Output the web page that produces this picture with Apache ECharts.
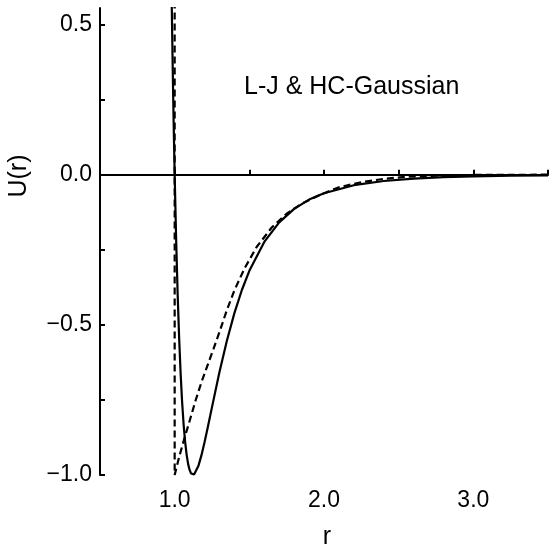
<!DOCTYPE html>
<html>
<head>
<meta charset="utf-8">
<script src="https://cdn.jsdelivr.net/npm/echarts@6/dist/echarts.min.js"></script>
<style>html,body{margin:0;padding:0;background:#fff}#c{width:560px;height:550px}</style>
</head>
<body>
<div id="c"></div>
<script>
// Lennard-Jones curve (solid)
var ljR = [0.97, 0.975, 0.98, 0.985, 0.99, 0.995, 1.0, 1.01, 1.02, 1.03, 1.04, 1.05, 1.06, 1.07, 1.08, 1.09, 1.1, 1.11, 1.12, 1.13, 1.14, 1.16, 1.18, 1.2, 1.22, 1.25, 1.3, 1.35, 1.4, 1.45, 1.5, 1.6, 1.7, 1.8, 1.9, 2.0, 2.2, 2.4, 2.6, 2.8, 3.0, 3.25, 3.5];
var ljU = [0.963, 0.764, 0.582, 0.416, 0.264, 0.126, 0, -0.218, -0.398, -0.544, -0.663, -0.758, -0.832, -0.889, -0.932, -0.963, -0.983, -0.995, -1.0, -0.998, -0.992, -0.968, -0.933, -0.891, -0.845, -0.774, -0.657, -0.552, -0.461, -0.384, -0.320, -0.224, -0.159, -0.114, -0.083, -0.062, -0.035, -0.021, -0.013, -0.008, -0.0055, -0.0034, -0.0022];
// Hard-core + Gaussian curve (dashed)
var hcR = [1.0, 1.0, 1.03, 1.06, 1.1, 1.14, 1.18, 1.22, 1.26, 1.3, 1.35, 1.4, 1.47, 1.55, 1.65, 1.75, 1.85, 1.97, 2.1, 2.25, 2.4, 2.55, 2.75, 3.0, 3.5];
var hcU = [0.65, -1.0, -0.94, -0.887, -0.82, -0.752, -0.69, -0.635, -0.58, -0.524, -0.45, -0.385, -0.31, -0.24, -0.176, -0.13, -0.097, -0.068, -0.042, -0.025, -0.014, -0.007, -0.003, -0.001, 0];
// Axis ticks and labels
var xTicks = [0.5, 1.0, 1.5, 2.0, 2.5, 3.0, 3.5];
var xLabels = [1.0, 2.0, 3.0];
var yTicks = [-1.0, -0.75, -0.5, -0.25, 0, 0.25, 0.5];
var yLabels = [-1.0, -0.5, 0, 0.5];
var titleText = 'L-J & HC-Gaussian';
var xName = 'r';
var yName = 'U(r)';

var FONT = '"Liberation Sans", Arial, Helvetica, sans-serif';
var chart = echarts.init(document.getElementById('c'), null, {renderer: 'canvas'});
function fmt(v) { return (v < 0 ? '\u2212' : '') + Math.abs(v).toFixed(1); }
function pairs(xs, ys) { return xs.map(function (x, i) { return [x, ys[i]]; }); }

chart.setOption({
  animation: false,
  backgroundColor: '#fff',
  grid: {left: 100, right: 12, top: 8, bottom: 75, containLabel: false},
  xAxis: {
    type: 'value', min: 0.5, max: 3.5,
    axisLine: {show: true, lineStyle: {color: '#000', width: 2}},
    axisTick: {show: true, inside: true, length: 5, customValues: xTicks, lineStyle: {color: '#000', width: 2}},
    axisLabel: {customValues: xLabels, formatter: fmt, fontSize: 23, fontFamily: FONT, color: '#000', margin: 14},
    splitLine: {show: false}
  },
  yAxis: {
    type: 'value', min: -1.0, max: 0.555,
    axisLine: {show: true, lineStyle: {color: '#000', width: 2}},
    axisTick: {show: true, inside: true, length: 5, customValues: yTicks, lineStyle: {color: '#000', width: 2}},
    axisLabel: {customValues: yLabels, formatter: fmt, fontSize: 23, fontFamily: FONT, color: '#000', margin: 8},
    splitLine: {show: false}
  },
  graphic: [
    {type: 'text', left: 244, top: 75, style: {text: titleText, font: '25px ' + FONT, fill: '#000'}},
    {type: 'text', x: 327, y: 537, style: {text: xName, font: '25px ' + FONT, fill: '#000', align: 'center', verticalAlign: 'middle'}},
    {type: 'text', x: 19, y: 176, rotation: Math.PI / 2, style: {text: yName, font: '25px ' + FONT, fill: '#000', align: 'center', verticalAlign: 'middle'}}
  ],
  series: [
    {
      type: 'line', data: pairs(ljR, ljU), showSymbol: false, symbol: 'none', clip: true,
      lineStyle: {color: '#000', width: 2.2},
      markLine: {
        silent: true, symbol: 'none', label: {show: false},
        lineStyle: {color: '#000', width: 2, type: 'solid'},
        data: [{yAxis: 0}]
      }
    },
    {
      type: 'line', data: pairs(hcR, hcU), showSymbol: false, symbol: 'none', clip: true,
      lineStyle: {color: '#000', width: 2.2, type: [7, 4]}
    }
  ]
});
</script>
</body>
</html>
